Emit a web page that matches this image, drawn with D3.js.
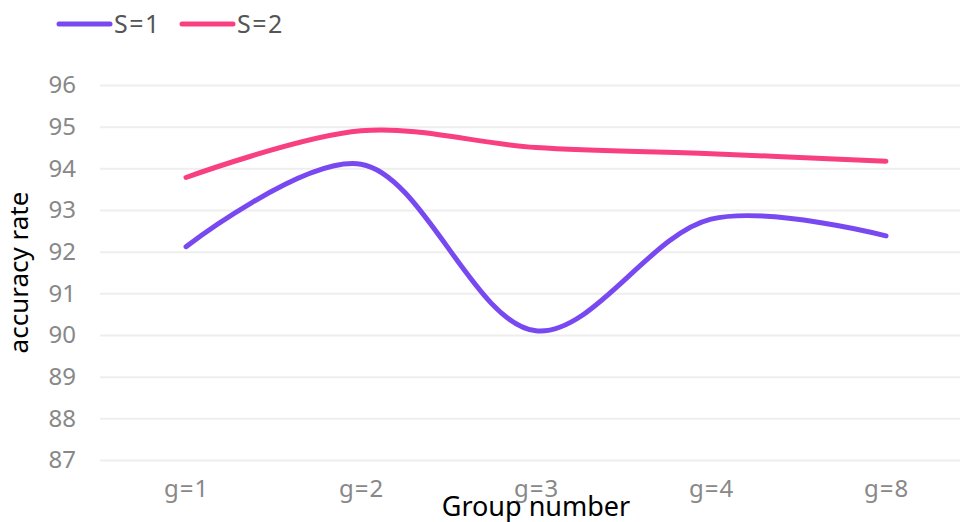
<!DOCTYPE html>
<html>
<head>
<meta charset="utf-8">
<script src="https://cdn.jsdelivr.net/npm/d3@7"></script>
<style>
  html, body { margin: 0; padding: 0; background: #fff; }
  svg { display: block; }
</style>
</head>
<body>
<svg id="chart" width="960" height="522"></svg>
<script>
const categories = ["g=1", "g=2", "g=3", "g=4", "g=8"];
const seriesNames = ["S=1", "S=2"];
const s1Values = [92.12, 94.1, 90.1, 92.78, 92.38];
const s2Values = [93.78, 94.9, 94.5, 94.35, 94.17];
const yTicks = [87, 88, 89, 90, 91, 92, 93, 94, 95, 96];
const colors = ["#7849F1", "#F83F80"];

const W = 960, H = 522;
const margin = { left: 98.5, right: -13.5, top: 85, bottom: 62 };
const svg = d3.select("#chart");
const font = "'Noto Sans', 'Open Sans', sans-serif";

const x = d3.scalePoint().domain(categories).range([margin.left, W - margin.right]).padding(0.5);
const y = d3.scaleLinear().domain([87, 96]).range([H - margin.bottom, margin.top]);

// grid lines + y labels
const yAxis = d3.axisLeft(y).tickValues(yTicks).tickSize(-(W - margin.left + 20)).tickPadding(24).tickFormat(d3.format("d"));
const gy = svg.append("g").attr("transform", `translate(${margin.left + 1.5},0)`).call(yAxis);
gy.select(".domain").remove();
gy.selectAll(".tick line").attr("stroke", "#eeeeee").attr("stroke-width", 2);
gy.selectAll(".tick text").attr("fill", "#888888").style("font-family", font).style("font-size", "24px");

// x axis labels
const xAxis = d3.axisBottom(x).tickSize(0).tickPadding(20);
const gx = svg.append("g").attr("transform", `translate(0,${H - margin.bottom})`).call(xAxis);
gx.select(".domain").remove();
gx.selectAll(".tick text").attr("fill", "#888888").style("font-family", font).style("font-size", "24px").style("letter-spacing", "1px");

const line = d3.line()
  .x((d, i) => x(categories[i]))
  .y(d => y(d))
  .curve(d3.curveCatmullRom.alpha(0.5));

[s1Values, s2Values].forEach((vals, si) => {
  svg.append("path")
    .attr("d", line(vals))
    .attr("fill", "none")
    .attr("stroke", colors[si])
    .attr("stroke-width", 5)
    .attr("stroke-linecap", "round")
    .attr("stroke-linejoin", "round");
});

// axis titles
svg.append("text")
  .attr("transform", `translate(28,${(margin.top + H - margin.bottom) / 2}) rotate(-90)`)
  .attr("text-anchor", "middle")
  .style("font-family", font).style("font-size", "26px").attr("fill", "#000")
  .text("accuracy rate");
svg.append("text")
  .attr("x", x("g=3")).attr("y", 516)
  .attr("text-anchor", "middle")
  .style("font-family", font).style("font-size", "27px").attr("fill", "#000")
  .text("Group number");

// legend
const legendX = [57, 180];
seriesNames.forEach((name, i) => {
  const g = svg.append("g").attr("transform", `translate(${legendX[i]},24)`);
  g.append("line").attr("x1", 2).attr("x2", 53).attr("y1", 0).attr("y2", 0)
    .attr("stroke", colors[i]).attr("stroke-width", 5).attr("stroke-linecap", "round");
  g.append("text").attr("x", 57).attr("y", 0).attr("dy", "0.35em")
    .style("font-family", font).style("font-size", "25px").style("letter-spacing", "1.5px").attr("fill", "#555")
    .text(name);
});
</script>
</body>
</html>
